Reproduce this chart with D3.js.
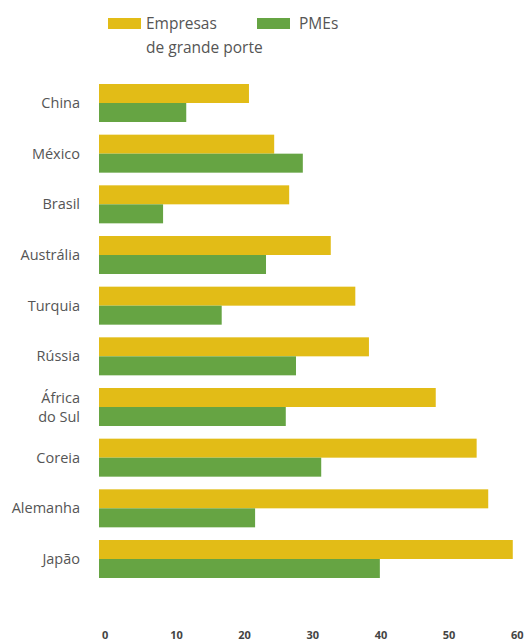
<!DOCTYPE html>
<html>
<head>
<meta charset="utf-8">
<script src="https://cdn.jsdelivr.net/npm/d3@7"></script>
<style>
  html, body { margin: 0; padding: 0; background: #fff; }
  svg { display: block; font-family: "Open Sans", "Noto Sans", sans-serif; }
</style>
</head>
<body>
<svg id="chart" width="527" height="641"></svg>
<script>
const categories = ["China", "México", "Brasil", "Austrália", "Turquia", "Rússia", "África\ndo Sul", "Coreia", "Alemanha", "Japão"];
const largeFirms = [22.0, 25.7, 27.9, 34.0, 37.6, 39.6, 49.4, 55.4, 57.1, 60.7];
const smes = [12.8, 29.9, 9.4, 24.5, 18.0, 28.9, 27.4, 32.6, 22.9, 41.2];
const seriesNames = ["Empresas\nde grande porte", "PMEs"];
const tickValues = [0, 10, 20, 30, 40, 50, 60];

const colors = ["#E2BC17", "#66A443"];
const svg = d3.select("#chart");

const x = d3.scaleLinear().domain([0, 60]).range([99, 508]);
const groupH = 38;
const yTop = d3.scalePoint().domain(categories).range([84, 540]);
const sub = d3.scaleBand().domain([0, 1]).range([0, groupH]);

const rows = categories.map((c, i) => ({ c, vals: [largeFirms[i], smes[i]] }));

const g = svg.append("g");
rows.forEach(r => {
  r.vals.forEach((v, k) => {
    g.append("rect")
      .attr("x", x(0))
      .attr("y", yTop(r.c) + sub(k))
      .attr("width", x(v) - x(0))
      .attr("height", sub.bandwidth())
      .attr("fill", colors[k]);
  });
  const lines = r.c.split("\n");
  const cy = yTop(r.c) + groupH / 2;
  const lh = 19;
  const t = g.append("text")
    .attr("text-anchor", "end")
    .attr("font-size", 14.5)
    .attr("fill", "#555");
  lines.forEach((ln, j) => {
    t.append("tspan")
      .attr("x", 80)
      .attr("y", cy + (j - (lines.length - 1) / 2) * lh)
      .attr("dy", "0.35em")
      .text(ln);
  });
});

// x tick labels
const ax = svg.append("g");
tickValues.forEach(v => {
  ax.append("text")
    .attr("x", x(v) + 3)
    .attr("y", 639)
    .attr("font-size", 11)
    .attr("font-weight", "bold")
    .attr("fill", "#444")
    .text(v);
});

// legend
const legend = svg.append("g");
const legX = [108, 257];
seriesNames.forEach((name, k) => {
  legend.append("rect")
    .attr("x", legX[k]).attr("y", 18)
    .attr("width", 33).attr("height", 11)
    .attr("fill", colors[k]);
  const t = legend.append("text")
    .attr("font-size", 15.5)
    .attr("fill", "#555");
  name.split("\n").forEach((ln, j) => {
    t.append("tspan")
      .attr("x", legX[k] + 38 + (k === 1 ? 4 : 0))
      .attr("y", 29 + j * 24)
      .text(ln);
  });
});
</script>
</body>
</html>
